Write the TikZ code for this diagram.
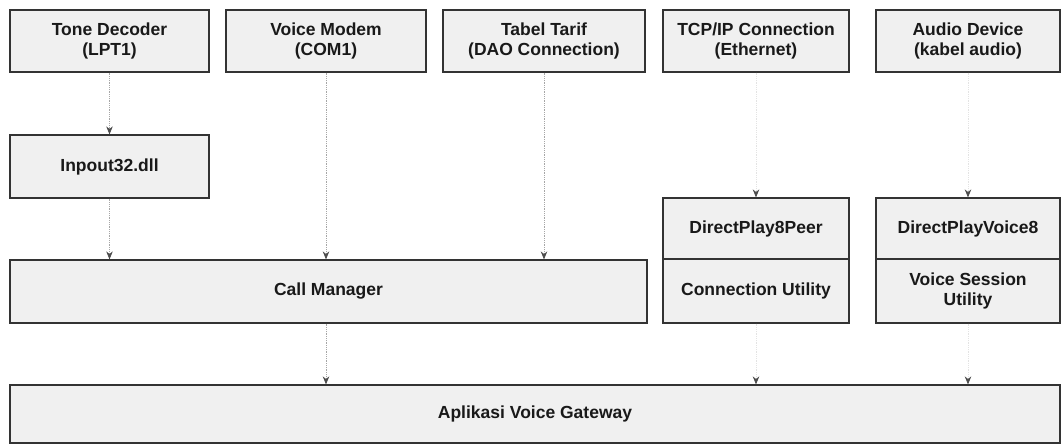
\documentclass[tikz,border=0pt]{standalone}
\usepackage{fontspec}
\setmainfont{Liberation Sans}
\usetikzlibrary{arrows.meta}
\begin{document}
\begin{tikzpicture}[x=1pt,y=-1pt,
  blk/.style={draw=black!80, line width=1.2pt, fill=gray!12, align=center,
    inner sep=0pt, text=black!90,
    font=\fontsize{17.5}{20.5}\selectfont\bfseries},
  link/.style={draw=gray!70, densely dotted, line width=0.8pt,
    -{Stealth[length=8pt,width=6.5pt,color=black!70]}},
  faint/.style={link, draw=gray!22}]
\useasboundingbox (0,0) rectangle (1063,445);

% top row: devices and data sources
\node[blk, minimum width=199pt, minimum height=62pt] (td) at (109.5,41) {Tone Decoder\\(LPT1)};
\node[blk, minimum width=200pt, minimum height=62pt] (vm) at (326,41) {Voice Modem\\(COM1)};
\node[blk, minimum width=202pt, minimum height=62pt] (tt) at (544,41) {Tabel Tarif\\(DAO Connection)};
\node[blk, minimum width=186pt, minimum height=62pt] (tcp) at (756,41) {TCP/IP Connection\\(Ethernet)};
\node[blk, minimum width=184pt, minimum height=62pt] (ad) at (968,41) {Audio Device\\(kabel audio)};

% driver layer
\node[blk, minimum width=199pt, minimum height=63pt] (io) at (109.5,166.5) {Inpout32.dll};

% middle layer
\node[blk, minimum width=637pt, minimum height=63pt] (cm) at (328.5,291.5) {Call Manager};
\node[blk, minimum width=186pt, minimum height=61pt] (dp) at (756,228.5) {DirectPlay8Peer};
\node[blk, minimum width=186pt, minimum height=64pt] (cu) at (756,291) {Connection Utility};
\node[blk, minimum width=184pt, minimum height=61pt] (dv) at (968,228.5) {DirectPlayVoice8};
\node[blk, minimum width=184pt, minimum height=64pt] (vs) at (968,291) {Voice Session\\Utility};

% application
\node[blk, minimum width=1050pt, minimum height=58pt] (app) at (535,414) {Aplikasi Voice Gateway};

% connectors
\draw[link] (td.south) -- (io.north);
\draw[link] (io.south) -- (io.south |- cm.north);
\draw[link] (vm.south) -- (vm.south |- cm.north);
\draw[link] (tt.south) -- (tt.south |- cm.north);
\draw[faint] (tcp.south) -- (dp.north);
\draw[faint] (ad.south) -- (dv.north);
\draw[link] (cm.south -| vm.south) -- (vm.south |- app.north);
\draw[faint] (cu.south) -- (cu.south |- app.north);
\draw[faint] (vs.south) -- (vs.south |- app.north);
\end{tikzpicture}
\end{document}
